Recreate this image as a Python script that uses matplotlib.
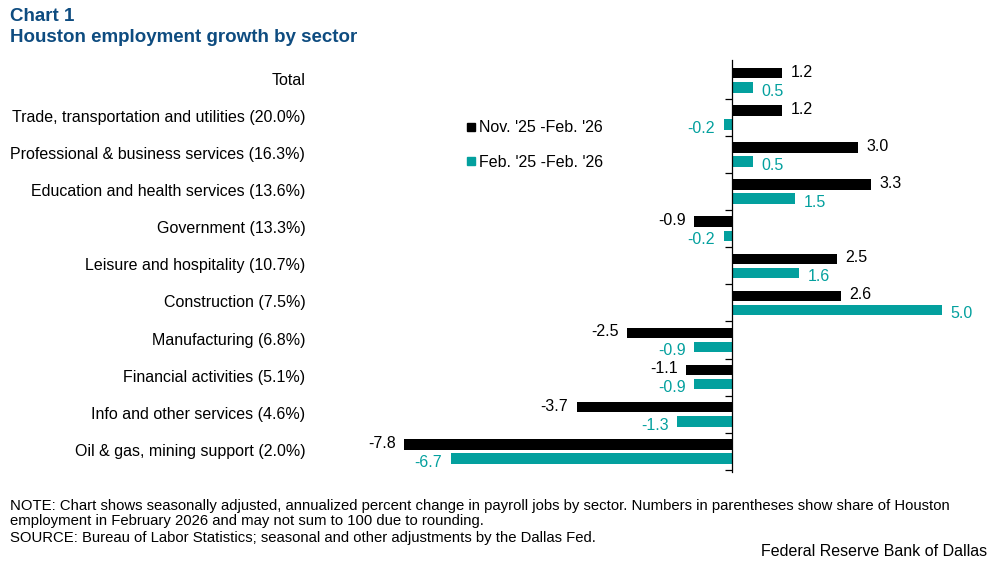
import matplotlib.pyplot as plt
from matplotlib.lines import Line2D
import matplotlib.transforms as mtransforms

plt.rcParams['font.family'] = ['Liberation Sans', 'DejaVu Sans']

sectors = [
    "Total",
    "Trade, transportation and utilities (20.0%)",
    "Professional & business services (16.3%)",
    "Education and health services (13.6%)",
    "Government (13.3%)",
    "Leisure and hospitality (10.7%)",
    "Construction (7.5%)",
    "Manufacturing (6.8%)",
    "Financial activities (5.1%)",
    "Info and other services (4.6%)",
    "Oil & gas, mining support (2.0%)",
]
nov_feb = [1.2, 1.2, 3.0, 3.3, -0.9, 2.5, 2.6, -2.5, -1.1, -3.7, -7.8]
yoy = [0.5, -0.2, 0.5, 1.5, -0.2, 1.6, 5.0, -0.9, -0.9, -1.3, -6.7]
series_names = ["Nov. '25 -Feb. '26", "Feb. '25 -Feb. '26"]

black = "#000000"
teal = "#03A09E"
navy = "#0E4C80"

fig = plt.figure(figsize=(9.97, 5.65), dpi=100)
ax = fig.add_axes([0.313, 0.165, 0.674, 0.729])

pos = list(range(len(sectors)))
off = 0.19
h = 0.28
ax.barh([p - off for p in pos], nov_feb, height=h, color=black)
ax.barh([p + off for p in pos], yoy, height=h, color=teal)

ax.set_xlim(-10, 6)
ax.set_ylim(len(sectors) - 0.45, -0.55)

# value labels
for p, v in zip(pos, nov_feb):
    ax.text(v + (0.2 if v >= 0 else -0.2), p - off - 0.03, f"{v:.1f}",
            ha='left' if v >= 0 else 'right', va='center', fontsize=11.5, color=black)
for p, v in zip(pos, yoy):
    ax.text(v + (0.2 if v >= 0 else -0.2), p + off + 0.1, f"{v:.1f}",
            ha='left' if v >= 0 else 'right', va='center', fontsize=11.5, color=teal)

# category labels
trans = mtransforms.blended_transform_factory(ax.transAxes, ax.transData)
for p, s in zip(pos, sectors):
    ax.text(-0.01, p, s, transform=trans, ha='right', va='center', fontsize=11.5)

# zero axis with boundary ticks
for sp in ['top', 'right', 'bottom']:
    ax.spines[sp].set_visible(False)
ax.spines['left'].set_position(('data', 0))
ax.spines['left'].set_linewidth(0.9)
ax.set_xticks([])
ax.set_yticks([p + 0.5 for p in pos])
ax.set_yticklabels([])
ax.tick_params(axis='y', direction='out', length=5, width=0.9)

handles = [Line2D([], [], marker='s', linestyle='none', color=black, markersize=6),
           Line2D([], [], marker='s', linestyle='none', color=teal, markersize=6)]
ax.legend(handles, series_names, loc='upper left', bbox_to_anchor=(0.205, 0.888),
          frameon=False, fontsize=11.5, handletextpad=0.1, labelspacing=1.2,
          handlelength=0.8)

fig.text(0.010, 0.970, "Chart 1", fontsize=13.5, fontweight='bold', color=navy, va='center')
fig.text(0.010, 0.934, "Houston employment growth by sector", fontsize=13.5,
         fontweight='bold', color=navy, va='center')

fig.text(0.010, 0.091, "NOTE: Chart shows seasonally adjusted, annualized percent change in payroll jobs by sector. "
         "Numbers in parentheses show share of Houston\nemployment in February 2026 and may not sum to 100 due to rounding.",
         fontsize=10.7, va='center', linespacing=1.15)
fig.text(0.010, 0.047, "SOURCE: Bureau of Labor Statistics; seasonal and other adjustments by the Dallas Fed.",
         fontsize=10.7, va='center')
fig.text(0.990, 0.024, "Federal Reserve Bank of Dallas", fontsize=11.5, ha='right', va='center')

fig.savefig("out.png", dpi=100)
